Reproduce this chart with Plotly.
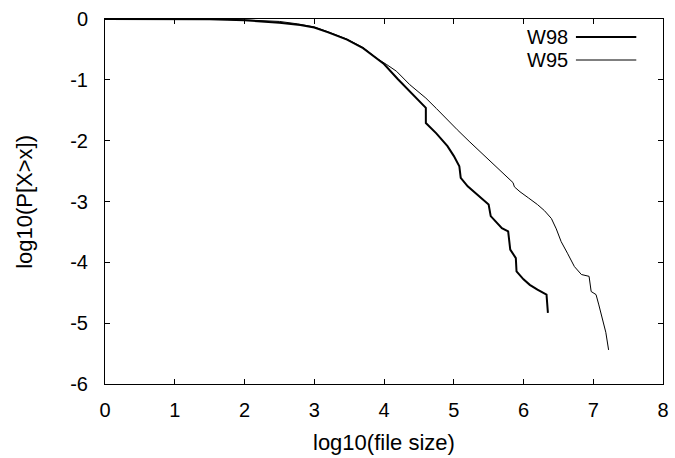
import plotly.graph_objects as go

# ---- data (log10 file size vs log10 CCDF) ----
series_names = ["W98", "W95"]

w98_x = [0, 1.0, 1.5, 2.0, 2.5, 2.8, 3.0, 3.2, 3.47, 3.7, 3.9, 4.0, 4.2, 4.4, 4.6, 4.6,
         4.75, 4.91, 5.0, 5.08, 5.10, 5.2, 5.35, 5.5, 5.53, 5.6, 5.69, 5.78, 5.81, 5.89,
         5.90, 6.0, 6.09, 6.2, 6.33, 6.35]
w98_y = [0, 0, -0.005, -0.02, -0.06, -0.10, -0.14, -0.22, -0.34, -0.48, -0.66, -0.74, -0.99,
         -1.22, -1.46, -1.71, -1.88, -2.09, -2.25, -2.42, -2.61, -2.75, -2.90, -3.05, -3.24,
         -3.33, -3.44, -3.49, -3.79, -3.93, -4.15, -4.28, -4.37, -4.45, -4.53, -4.83]

w95_x = [0, 1.0, 1.6, 2.0, 2.5, 2.76, 3.0, 3.2, 3.47, 3.7, 3.9, 4.04, 4.18, 4.37, 4.6, 4.75,
         4.91, 5.05, 5.22, 5.4, 5.55, 5.67, 5.80, 5.85, 5.87, 5.95, 6.07, 6.2, 6.3, 6.40,
         6.47, 6.54, 6.63, 6.73, 6.83, 6.94, 6.97, 7.04, 7.08, 7.13, 7.18, 7.22]
w95_y = [0, 0, -0.002, -0.015, -0.04, -0.08, -0.13, -0.21, -0.33, -0.47, -0.65, -0.75, -0.86,
         -1.08, -1.30, -1.47, -1.66, -1.82, -2.01, -2.20, -2.36, -2.50, -2.63, -2.69, -2.76,
         -2.84, -2.94, -3.05, -3.15, -3.28, -3.45, -3.66, -3.85, -4.07, -4.20, -4.23, -4.48,
         -4.53, -4.70, -4.94, -5.15, -5.44]

x_ticks = [0, 1, 2, 3, 4, 5, 6, 7, 8]
y_ticks = [0, -1, -2, -3, -4, -5, -6]

FONT = "Liberation Sans, Arial, Helvetica, sans-serif"

fig = go.Figure()
fig.add_trace(go.Scatter(x=w98_x, y=w98_y, mode="lines", name=series_names[0],
                         line=dict(color="black", width=2), showlegend=False))
fig.add_trace(go.Scatter(x=w95_x, y=w95_y, mode="lines", name=series_names[1],
                         line=dict(color="black", width=1), showlegend=False))

axis_common = dict(showgrid=False, zeroline=False, showline=True, linecolor="black",
                   linewidth=1, mirror="allticks", ticks="inside", ticklen=5,
                   tickcolor="black", tickwidth=1,
                   tickfont=dict(family=FONT, size=20, color="black"))

fig.update_xaxes(range=[0, 8], tickvals=x_ticks, ticktext=[str(v) for v in x_ticks],
                 ticklabelstandoff=8, **axis_common)
fig.update_yaxes(range=[-6, 0], tickvals=y_ticks, ticktext=[str(v) for v in y_ticks],
                 ticklabelstandoff=12, **axis_common)

W, H = 675, 458
L, R, T, B = 105, 6, 19, 74
pw, ph = W - L - R, H - T - B

def px_x(p):
    return (p - L) / pw

def px_y(p):
    return (H - B - p) / ph

annotations = [
    dict(text="log10(file size)", xref="paper", yref="paper", x=px_x(387), y=px_y(442),
         xanchor="center", yanchor="middle", showarrow=False,
         font=dict(family=FONT, size=22, color="black")),
    dict(text="log10(P[X>x])", xref="paper", yref="paper", x=px_x(23), y=px_y(202),
         xanchor="center", yanchor="middle", textangle=-90, showarrow=False,
         font=dict(family=FONT, size=22, color="black")),
]
shapes = []
legend_rows = [(series_names[0], 37, 2), (series_names[1], 60, 1)]
for name, ypx, lw in legend_rows:
    annotations.append(dict(text=name, xref="paper", yref="paper", x=px_x(575), y=px_y(ypx),
                            xanchor="right", yanchor="middle", showarrow=False,
                            font=dict(family=FONT, size=20, color="black")))
    shapes.append(dict(type="line", xref="paper", yref="paper", x0=px_x(581), x1=px_x(642),
                       y0=px_y(ypx), y1=px_y(ypx), line=dict(color="black", width=lw)))

fig.update_layout(width=W, height=H, margin=dict(l=L, r=R, t=T, b=B, pad=0),
                  paper_bgcolor="white", plot_bgcolor="white",
                  annotations=annotations, shapes=shapes, showlegend=False,
                  font=dict(family=FONT, size=20, color="black"))

fig.write_html("out.html")
